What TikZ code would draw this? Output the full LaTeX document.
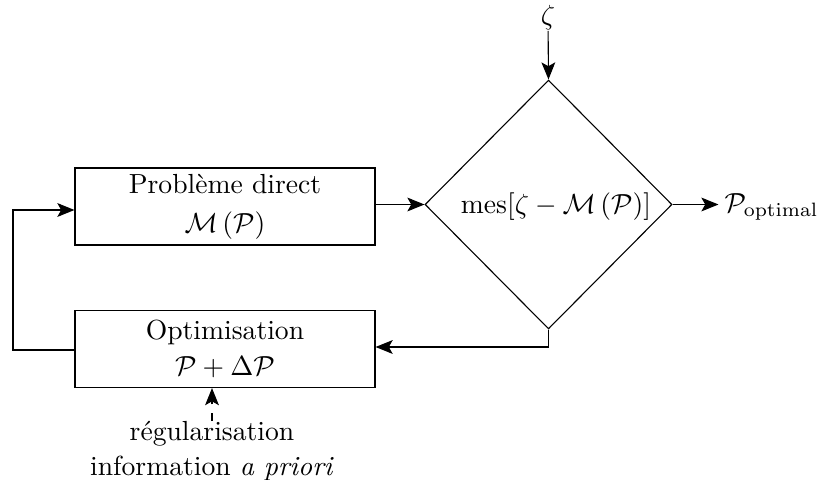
\documentclass[tikz,border=0pt]{standalone}
\usepackage{amsmath}
\usetikzlibrary{arrows.meta,shapes.geometric}
\tikzset{
  box/.style={draw,line width=0.4pt,minimum width=108.6pt,minimum height=27.9pt,inner sep=0pt,align=center},
  dec/.style={draw,diamond,line width=0.4pt,minimum width=89.4pt,minimum height=90.1pt,inner sep=0pt},
  lbl/.style={inner sep=0pt,align=center},
  arr/.style={-{Stealth[length=6.2pt,width=5pt,inset=1.4pt]},line width=0.4pt},
}
\begin{document}
\begin{tikzpicture}[x=0.362pt,y=-0.362pt]
\useasboundingbox (0,0) rectangle (819,479);
\node[box] (pd) at (225,206.5) {Problème direct\\[2pt]$\mathcal{M}\left(\mathcal{P}\right)$};
\node[box] (opt) at (225,349) {Optimisation\\[1pt]$\mathcal{P}+\Delta\mathcal{P}$};
\node[dec] (mes) at (548.5,204.5) {};
\node[lbl] (mest) at (556,207) {mes$[\zeta-\mathcal{M}\left(\mathcal{P}\right)]$};
\node[lbl] (zeta) at (548,18) {$\zeta$};
\node[lbl,anchor=west] (popt) at (724,207) {$\mathcal{P}_{\mathrm{optimal}}$};
\node[lbl] (reg) at (212,451) {régularisation\\[1pt]information \textit{a priori}};
\coordinate (c1) at (13,350);
\coordinate (c2) at (13,210);
\coordinate (c3) at (548.5,347);
\coordinate (d1) at (212,421);
\draw[arr] (zeta) -- (mes.north);
\draw[arr] (pd.east |- mes.west) -- (mes.west);
\draw[arr,shorten >=2pt] (mes.east) -- (mes.east -| popt.west);
\draw[arr] (mes.south) -- (c3) -- (opt.east |- c3);
\draw[arr] (opt.west |- c1) -- (c1) -- (c2) -- (pd.west |- c2);
\draw[arr,dash pattern=on 3pt off 3pt] (d1) -- (d1 |- opt.south);
\end{tikzpicture}
\end{document}
